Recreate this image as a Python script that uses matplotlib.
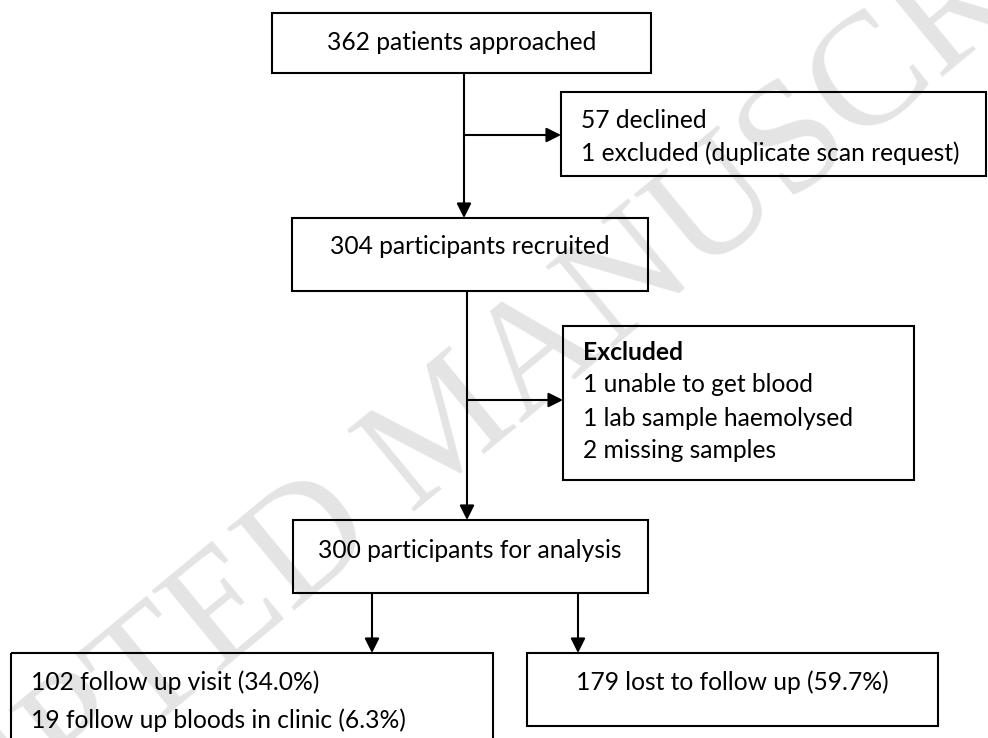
import matplotlib.pyplot as plt
from matplotlib.patches import Rectangle

# flowchart text
top_box = "362 patients approached"
declined_lines = ["57 declined", "1 excluded (duplicate scan request)"]
recruited_box = "304 participants recruited"
excluded_title = "Excluded"
excluded_lines = ["1 unable to get blood", "1 lab sample haemolysed", "2 missing samples"]
analysis_box = "300 participants for analysis"
followup_lines = ["102 follow up visit (34.0%)", "19 follow up bloods in clinic (6.3%)"]
lost_box = "179 lost to follow up (59.7%)"
watermark = "ACCEPTED MANUSCRIPT"

FONT = "Lato"
FS = 17.7
LW = 1.5

fig = plt.figure(figsize=(9.88, 7.38), dpi=100)
ax = fig.add_axes([0, 0, 1, 1])
ax.set_xlim(0, 988)
ax.set_ylim(738, 0)
ax.axis('off')

# faint watermark behind everything (runs off the page, as in the original)
ax.text(450, 432, watermark, rotation=39.5, rotation_mode='anchor', ha='center', va='center',
        fontsize=115, family='Liberation Serif', color='#e4e4e4', zorder=0, clip_on=True)


def box(x0, y0, x1, y1):
    ax.add_patch(Rectangle((x0, y0), x1 - x0, y1 - y0, fill=False, edgecolor='black', lw=LW, zorder=2))


def arrow(x0, y0, x1, y1):
    ax.annotate("", xy=(x1, y1), xytext=(x0, y0),
                arrowprops=dict(arrowstyle='-|>', color='black', lw=LW, mutation_scale=22,
                                shrinkA=0, shrinkB=0), zorder=3)


def left_lines(x, ys, lines, bold_first=False):
    for i, (y, s) in enumerate(zip(ys, lines)):
        ax.text(x, y, s, ha='left', va='center', fontsize=FS, family=FONT,
                fontweight='bold' if (bold_first and i == 0) else 'normal', zorder=4)


# boxes
box(272, 13, 651, 73)
ax.text(462, 43, top_box, ha='center', va='center', fontsize=FS, family=FONT, zorder=4)

box(561, 92, 986, 176)
left_lines(581, [120, 153], declined_lines)

box(292, 218, 648, 291)
ax.text(470, 247, recruited_box, ha='center', va='center', fontsize=FS, family=FONT, zorder=4)

box(563, 326, 914, 480)
left_lines(583, [353, 385, 419, 451], [excluded_title] + excluded_lines, bold_first=True)

box(293, 520, 648, 593)
ax.text(470, 550, analysis_box, ha='center', va='center', fontsize=FS, family=FONT, zorder=4)

box(11, 653, 493, 780)
left_lines(31, [682, 720], followup_lines)

box(527, 653, 938, 726)
ax.text(732, 682, lost_box, ha='center', va='center', fontsize=FS, family=FONT, zorder=4)

# connectors
arrow(464, 73, 464, 218)
arrow(464, 135, 561, 135)
arrow(467, 291, 467, 520)
arrow(467, 400, 563, 400)
arrow(372, 593, 372, 653)
arrow(578, 593, 578, 653)

fig.savefig("out.png", dpi=100)
